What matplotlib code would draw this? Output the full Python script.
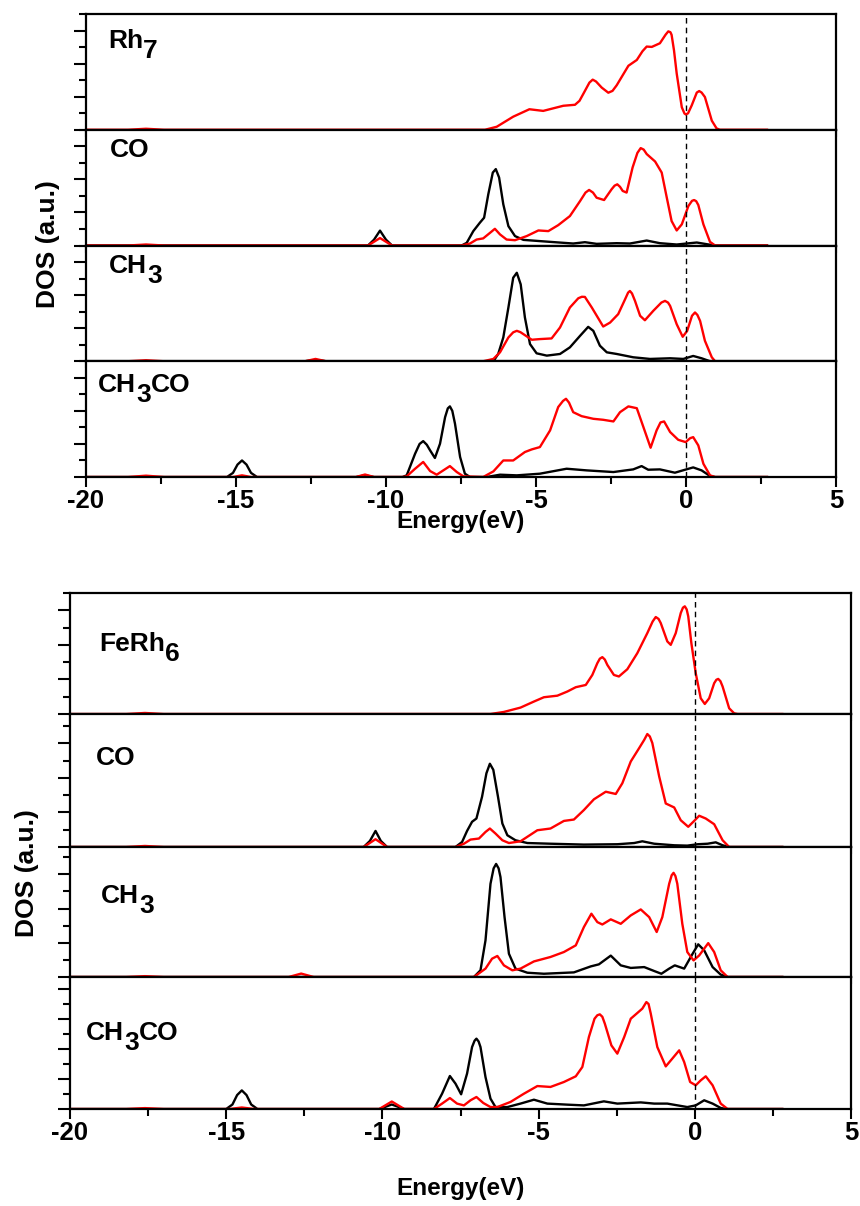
import matplotlib
matplotlib.use("Agg")
import matplotlib.pyplot as plt
from matplotlib.ticker import MultipleLocator

plt.rcParams['font.family'] = ['Liberation Sans', 'DejaVu Sans']
plt.rcParams['font.weight'] = 'bold'

# ---------------- data (energy in eV, DOS in arbitrary units) ----------------
# Top group: Rh7
rh7_red_E = [-20, -18.6, -18.0, -17.4, -6.7, -6.31, -5.76, -5.22, -4.76, -4.09, -3.70, -3.55, -3.42, -3.22, -3.11, -3.0, -2.81, -2.59, -2.45, -2.31, -1.92, -1.64, -1.45, -1.31, -1.14, -0.87, -0.68, -0.59, -0.52, -0.48, -0.40, -0.31, -0.14, -0.05, 0.0, 0.07, 0.19, 0.36, 0.44, 0.52, 0.63, 0.86, 1.02, 1.13, 2.7]
rh7_red_D = [0, 0, 0.06, 0, 0, 0.18, 0.79, 1.24, 1.14, 1.45, 1.51, 1.75, 2.18, 2.85, 3.03, 2.92, 2.55, 2.24, 2.35, 2.69, 3.87, 4.22, 4.75, 5.03, 5.01, 5.23, 5.75, 5.95, 5.9, 5.74, 4.8, 3.40, 1.36, 0.98, 0.92, 1.0, 1.47, 2.25, 2.34, 2.25, 1.98, 0.55, 0.08, 0, 0]

rh7co_blk_E = [-20, -10.6, -10.4, -10.2, -10.0, -9.8, -7.48, -7.31, -7.09, -6.87, -6.73, -6.59, -6.44, -6.34, -6.23, -6.09, -5.92, -5.70, -5.42, -4.53, -3.76, -3.37, -2.98, -2.31, -1.87, -1.31, -0.87, -0.31, 0.02, 0.36, 0.69, 0.97, 2.7]
rh7co_blk_D = [0, 0, 0.35, 0.9, 0.35, 0, 0, 0.16, 0.87, 1.38, 1.68, 3.10, 4.41, 4.62, 4.11, 2.49, 1.17, 0.57, 0.34, 0.22, 0.12, 0.20, 0.10, 0.14, 0.12, 0.30, 0.14, 0.06, 0.12, 0.18, 0.08, 0, 0]
rh7co_red_E = [-20, -18.6, -18.0, -17.4, -10.6, -10.2, -9.8, -7.48, -7.2, -6.98, -6.76, -6.53, -6.37, -6.2, -5.98, -5.70, -5.31, -4.92, -4.59, -4.26, -3.87, -3.53, -3.35, -3.23, -3.1, -2.98, -2.73, -2.48, -2.38, -2.29, -2.2, -2.11, -1.98, -1.78, -1.62, -1.51, -1.41, -1.31, -1.03, -0.81, -0.64, -0.48, -0.31, -0.14, 0.08, 0.2, 0.27, 0.34, 0.41, 0.58, 0.8, 0.97, 2.7]
rh7co_red_D = [0, 0, 0.06, 0, 0, 0.45, 0, 0, 0.12, 0.36, 0.43, 0.77, 1.01, 0.67, 0.36, 0.32, 0.57, 0.91, 0.87, 1.23, 1.78, 2.69, 3.2, 3.36, 3.2, 2.89, 2.75, 3.40, 3.62, 3.70, 3.55, 3.30, 3.20, 4.72, 5.6, 5.89, 5.8, 5.53, 5.08, 4.41, 2.89, 1.48, 0.91, 1.28, 2.39, 2.7, 2.75, 2.68, 2.45, 1.28, 0.22, 0, 0]

rh7ch3_blk_E = [-20, -12.7, -12.35, -12.0, -6.42, -6.26, -6.09, -5.92, -5.76, -5.64, -5.51, -5.37, -5.2, -4.98, -4.64, -4.2, -3.87, -3.53, -3.26, -3.09, -2.87, -2.64, -2.31, -1.76, -1.2, -0.53, -0.09, 0.24, 0.52, 0.8, 2.7]
rh7ch3_blk_D = [0, 0, 0.08, 0, 0, 0.44, 1.44, 3.25, 5.05, 5.35, 4.65, 2.65, 1.04, 0.48, 0.34, 0.44, 0.84, 1.54, 2.08, 1.84, 0.94, 0.54, 0.44, 0.24, 0.14, 0.18, 0.14, 0.32, 0.18, 0, 0]
rh7ch3_red_E = [-20, -18.6, -18.0, -17.4, -12.7, -12.35, -12.0, -6.76, -6.42, -6.2, -5.92, -5.76, -5.64, -5.52, -5.42, -5.14, -4.87, -4.48, -4.2, -3.87, -3.59, -3.47, -3.37, -3.14, -2.76, -2.53, -2.26, -2.03, -1.93, -1.87, -1.8, -1.7, -1.53, -1.37, -1.09, -0.82, -0.7, -0.6, -0.53, -0.31, -0.11, 0.04, 0.2, 0.3, 0.38, 0.47, 0.63, 0.86, 0.97, 2.7]
rh7ch3_red_D = [0, 0, 0.06, 0, 0, 0.14, 0, 0, 0.14, 0.54, 1.44, 1.75, 1.84, 1.76, 1.64, 1.30, 1.34, 1.38, 2.04, 3.25, 3.81, 3.9, 3.89, 3.25, 2.10, 2.34, 2.85, 3.75, 4.15, 4.25, 4.1, 3.65, 2.75, 2.48, 3.05, 3.55, 3.65, 3.55, 3.35, 2.24, 1.48, 1.84, 2.75, 2.95, 2.8, 2.44, 1.24, 0.24, 0, 0]

rh7ch3co_blk_E = [-20, -15.3, -15.1, -14.95, -14.8, -14.65, -14.5, -14.3, -11.0, -10.7, -10.4, -9.45, -9.31, -9.03, -8.88, -8.76, -8.64, -8.53, -8.37, -8.2, -8.03, -7.94, -7.87, -7.79, -7.7, -7.53, -7.37, -7.2, -6.64, -6.2, -5.64, -4.87, -3.98, -3.31, -2.42, -1.76, -1.48, -1.26, -0.87, -0.37, -0.03, 0.24, 0.52, 0.8, 0.97, 2.7]
rh7ch3co_blk_D = [0, 0, 0.25, 0.75, 1.0, 0.75, 0.25, 0, 0, 0.1, 0, 0, 0.1, 1.41, 2.0, 2.17, 1.95, 1.61, 1.15, 2.01, 3.62, 4.15, 4.27, 4.0, 3.22, 1.21, 0.2, 0, 0, 0.14, 0.1, 0.2, 0.5, 0.4, 0.3, 0.46, 0.66, 0.44, 0.46, 0.26, 0.44, 0.58, 0.4, 0.06, 0, 0]
rh7ch3co_red_E = [-20, -18.6, -18.0, -17.4, -15.1, -14.8, -14.5, -11.0, -10.7, -10.4, -9.45, -9.31, -9.03, -8.76, -8.53, -8.31, -8.09, -7.87, -7.64, -7.42, -6.76, -6.42, -6.09, -5.76, -5.37, -5.14, -4.87, -4.53, -4.26, -4.1, -4.0, -3.9, -3.76, -3.48, -3.09, -2.76, -2.42, -2.2, -1.92, -1.64, -1.42, -1.18, -0.98, -0.85, -0.73, -0.53, -0.26, -0.01, 0.14, 0.24, 0.41, 0.58, 0.8, 0.97, 2.7]
rh7ch3co_red_D = [0, 0, 0.08, 0, 0, 0.1, 0, 0, 0.15, 0, 0, 0.04, 0.5, 0.91, 0.36, 0.14, 0.4, 0.66, 0.3, 0.04, 0, 0.34, 1.0, 1.0, 1.51, 1.67, 1.81, 2.82, 4.23, 4.6, 4.73, 4.5, 3.92, 3.68, 3.52, 3.46, 3.36, 3.92, 4.27, 4.16, 3.02, 1.77, 2.82, 3.3, 3.36, 2.72, 2.25, 2.11, 2.35, 2.41, 1.91, 0.8, 0.1, 0, 0]

# Bottom group: FeRh6
ferh6_red_E = [-20, -18.2, -17.6, -17.0, -6.54, -6.11, -5.58, -5.15, -4.83, -4.4, -4.08, -3.81, -3.49, -3.28, -3.12, -3.04, -2.96, -2.88, -2.8, -2.59, -2.43, -2.16, -1.84, -1.52, -1.35, -1.25, -1.16, -1.09, -0.88, -0.77, -0.61, -0.45, -0.38, -0.32, -0.26, -0.21, -0.11, 0.03, 0.19, 0.32, 0.46, 0.62, 0.69, 0.75, 0.82, 0.89, 1.1, 1.26, 1.37, 2.8]
ferh6_red_D = [0, 0, 0.06, 0, 0, 0.12, 0.37, 0.72, 0.97, 1.06, 1.30, 1.55, 1.68, 2.26, 2.94, 3.2, 3.29, 3.15, 2.84, 2.26, 2.17, 2.59, 3.52, 4.68, 5.35, 5.61, 5.5, 5.26, 4.20, 4.0, 4.68, 5.84, 6.15, 6.23, 6.05, 5.65, 4.10, 2.36, 0.91, 0.58, 0.91, 1.78, 1.98, 2.03, 1.9, 1.59, 0.33, 0.04, 0, 0]

ferh6co_blk_E = [-20, -10.6, -10.4, -10.22, -10.05, -9.85, -7.66, -7.45, -7.29, -7.13, -6.99, -6.81, -6.67, -6.56, -6.45, -6.30, -6.16, -6.0, -5.74, -5.36, -4.62, -3.55, -2.48, -1.94, -1.68, -1.3, -0.66, -0.24, 0.09, 0.41, 0.67, 0.89, 1.1, 2.8]
ferh6co_blk_D = [0, 0, 0.35, 0.93, 0.35, 0, 0, 0.29, 0.93, 1.46, 1.65, 2.91, 4.27, 4.82, 4.47, 2.91, 1.36, 0.68, 0.39, 0.23, 0.19, 0.14, 0.16, 0.23, 0.33, 0.19, 0.1, 0.08, 0.16, 0.19, 0.27, 0.1, 0, 0]
ferh6co_red_E = [-20, -18.2, -17.6, -17.0, -10.6, -10.22, -9.85, -7.66, -7.39, -7.18, -6.91, -6.7, -6.56, -6.38, -6.16, -5.95, -5.58, -5.04, -4.62, -4.19, -3.87, -3.55, -3.23, -2.85, -2.53, -2.32, -2.05, -1.78, -1.62, -1.52, -1.44, -1.36, -1.14, -0.93, -0.66, -0.45, -0.21, -0.02, 0.14, 0.35, 0.62, 0.89, 1.1, 2.8]
ferh6co_red_D = [0, 0, 0.06, 0, 0, 0.45, 0, 0, 0.19, 0.43, 0.49, 0.87, 1.07, 0.78, 0.39, 0.23, 0.33, 0.97, 1.07, 1.51, 1.59, 2.14, 2.76, 3.2, 3.07, 3.69, 4.95, 5.73, 6.2, 6.54, 6.4, 6.02, 4.08, 2.52, 2.29, 1.55, 1.17, 1.51, 1.81, 1.65, 1.32, 0.39, 0, 0]

ferh6ch3_blk_E = [-20, -7.07, -6.86, -6.7, -6.54, -6.44, -6.36, -6.28, -6.22, -6.09, -5.95, -5.74, -5.36, -4.83, -3.87, -3.33, -3.07, -2.69, -2.37, -2.05, -1.62, -1.3, -1.07, -0.82, -0.64, -0.34, -0.07, 0.11, 0.3, 0.57, 0.83, 1.05, 2.8]
ferh6ch3_blk_D = [0, 0, 0.39, 2.14, 5.45, 6.35, 6.61, 6.35, 5.84, 3.5, 1.36, 0.49, 0.25, 0.19, 0.27, 0.62, 0.74, 1.25, 0.68, 0.53, 0.58, 0.35, 0.19, 0.49, 0.68, 0.49, 1.36, 1.91, 1.56, 0.58, 0.14, 0, 0]
ferh6ch3_red_E = [-20, -18.2, -17.6, -17.0, -13.0, -12.6, -12.2, -7.07, -6.7, -6.49, -6.32, -6.11, -5.84, -5.58, -5.15, -4.62, -4.19, -3.81, -3.55, -3.31, -3.12, -2.96, -2.69, -2.37, -2.05, -1.73, -1.46, -1.22, -1.04, -0.82, -0.74, -0.68, -0.62, -0.56, -0.4, -0.24, -0.04, 0.14, 0.43, 0.62, 0.83, 1.05, 2.8]
ferh6ch3_red_D = [0, 0, 0.05, 0, 0, 0.2, 0, 0, 0.49, 1.07, 1.23, 0.68, 0.39, 0.49, 0.91, 1.17, 1.46, 1.85, 2.92, 3.70, 3.21, 3.07, 3.37, 3.11, 3.6, 3.95, 3.5, 2.63, 3.5, 5.45, 5.95, 6.09, 5.9, 5.45, 3.11, 1.46, 0.97, 1.26, 1.98, 1.46, 0.39, 0, 0]

ferh6ch3co_blk_E = [-20, -15.0, -14.8, -14.65, -14.5, -14.35, -14.2, -14.0, -10.1, -9.7, -9.3, -8.35, -8.09, -7.84, -7.66, -7.48, -7.29, -7.13, -7.05, -6.99, -6.92, -6.86, -6.7, -6.54, -6.38, -6.0, -5.58, -5.15, -4.72, -4.08, -3.55, -2.91, -2.48, -1.73, -1.3, -0.88, -0.24, 0.03, 0.3, 0.57, 0.83, 0.99, 2.8]
ferh6ch3co_blk_D = [0, 0, 0.3, 0.93, 1.24, 0.93, 0.3, 0, 0, 0.3, 0, 0, 1.02, 2.2, 1.69, 0.98, 2.36, 4.13, 4.55, 4.69, 4.5, 4.13, 2.13, 0.69, 0.13, 0.13, 0.36, 0.62, 0.36, 0.29, 0.24, 0.51, 0.36, 0.44, 0.36, 0.36, 0.13, 0.24, 0.58, 0.36, 0.07, 0, 0]
ferh6ch3co_red_E = [-20, -18.2, -17.6, -17.0, -14.9, -14.5, -14.1, -10.1, -9.7, -9.3, -8.35, -8.09, -7.84, -7.61, -7.39, -7.18, -6.99, -6.77, -6.54, -6.32, -5.9, -5.47, -5.04, -4.62, -4.19, -3.81, -3.6, -3.39, -3.21, -3.12, -3.04, -2.96, -2.88, -2.67, -2.48, -2.26, -2.05, -1.84, -1.68, -1.55, -1.48, -1.41, -1.2, -0.93, -0.72, -0.5, -0.34, -0.15, 0.03, 0.19, 0.35, 0.57, 0.83, 1.05, 2.8]
ferh6ch3co_red_D = [0, 0, 0.06, 0, 0, 0.1, 0, 0, 0.5, 0, 0, 0.36, 0.73, 0.36, 0.24, 0.58, 0.8, 0.4, 0.13, 0.13, 0.47, 1.02, 1.53, 1.47, 1.8, 2.18, 2.8, 4.8, 6.02, 6.25, 6.31, 6.15, 5.69, 4.24, 3.69, 4.8, 6.02, 6.4, 6.69, 7.13, 7.0, 6.36, 4.13, 2.84, 3.36, 3.91, 3.13, 1.8, 1.58, 1.91, 2.18, 1.58, 0.36, 0, 0]

x_ticks = [-20, -15, -10, -5, 0, 5]
x_tick_labels = ['-20', '-15', '-10', '-5', '0', '5']
top_labels = [[('Rh', 0), ('7', 1)], [('CO', 0)], [('CH', 0), ('3', 1)], [('CH', 0), ('3', 1), ('CO', 0)]]
bot_labels = [[('FeRh', 0), ('6', 1)], [('CO', 0)], [('CH', 0), ('3', 1)], [('CH', 0), ('3', 1), ('CO', 0)]]
x_label = 'Energy(eV)'
y_label = 'DOS (a.u.)'

top_curves = [
    [(rh7_red_E, rh7_red_D, 'red')],
    [(rh7co_blk_E, rh7co_blk_D, 'black'), (rh7co_red_E, rh7co_red_D, 'red')],
    [(rh7ch3_blk_E, rh7ch3_blk_D, 'black'), (rh7ch3_red_E, rh7ch3_red_D, 'red')],
    [(rh7ch3co_blk_E, rh7ch3co_blk_D, 'black'), (rh7ch3co_red_E, rh7ch3co_red_D, 'red')],
]
bot_curves = [
    [(ferh6_red_E, ferh6_red_D, 'red')],
    [(ferh6co_blk_E, ferh6co_blk_D, 'black'), (ferh6co_red_E, ferh6co_red_D, 'red')],
    [(ferh6ch3_blk_E, ferh6ch3_blk_D, 'black'), (ferh6ch3_red_E, ferh6ch3_red_D, 'red')],
    [(ferh6ch3co_blk_E, ferh6ch3co_blk_D, 'black'), (ferh6ch3co_red_E, ferh6ch3co_red_D, 'red')],
]

# ---------------- layout ----------------
W, H = 860, 1206
fig = plt.figure(figsize=(W / 100, H / 100), dpi=100)

def px_rect(xl, xr, yt, yb):
    return [xl / W, 1 - yb / H, (xr - xl) / W, (yb - yt) / H]

def draw_label(x_px, y_px, parts, size=19, drop=7.0):
    t = fig.text(x_px / W, 1 - y_px / H, parts[0][0], fontsize=size, fontweight='bold',
                 ha='left', va='baseline')
    prev, prev_sub = t, parts[0][1]
    for txt, sub in parts[1:]:
        dy = 0
        if sub and not prev_sub:
            dy = -drop
        elif prev_sub and not sub:
            dy = drop
        ann = matplotlib.text.Annotation(txt, xy=(1, 0), xycoords=prev, xytext=(0, dy),
                                         textcoords='offset points', ha='left', va='bottom',
                                         fontsize=size, fontweight='bold')
        fig.add_artist(ann)
        prev, prev_sub = ann, sub

def make_group(xl, xr, bounds, ylims, curves, labels, label_pos, lab_y_px, lab_x_px, xlab_y_px):
    axes = []
    for i in range(4):
        ax = fig.add_axes(px_rect(xl, xr, bounds[i], bounds[i + 1]))
        for E, D, c in curves[i]:
            ax.plot(E, D, color=c, lw=1.7, solid_joinstyle='round')
        ax.axvline(0, color='black', lw=1.0, ls=(0, (4, 3)))
        ax.set_xlim(-20, 5)
        ax.set_ylim(0, ylims[i])
        ax.xaxis.set_major_locator(MultipleLocator(5))
        ax.xaxis.set_minor_locator(MultipleLocator(2.5))
        ax.yaxis.set_major_locator(MultipleLocator(2))
        ax.yaxis.set_minor_locator(MultipleLocator(1))
        ax.set_yticklabels([])
        for s in ax.spines.values():
            s.set_linewidth(1.6)
        last = (i == 3)
        ax.tick_params(axis='x', which='major', direction='out', length=7 if last else 5,
                       width=1.5, labelsize=18.5, pad=2, labelbottom=last)
        ax.tick_params(axis='x', which='minor', direction='out', length=5 if last else 3.5,
                       width=1.5, labelbottom=False)
        ax.tick_params(axis='y', which='major', direction='out', length=8.5, width=1.5)
        ax.tick_params(axis='y', which='minor', direction='out', length=5, width=1.5)
        if last:
            ax.set_xticks(x_ticks)
            ax.set_xticklabels(x_tick_labels, fontweight='bold')
        axes.append(ax)
        draw_label(label_pos[i][0], label_pos[i][1], labels[i])
    fig.text((xl + xr) / 2 / W, 1 - xlab_y_px / H, x_label, fontsize=17.5, fontweight='bold',
             ha='center', va='center')
    fig.text(lab_x_px / W, 1 - lab_y_px / H, y_label, fontsize=19, fontweight='bold',
             ha='center', va='center', rotation=90)
    return axes

make_group(86, 836, [14, 129.75, 245.5, 361.25, 477], [7, 7, 7, 7], top_curves, top_labels,
           [(108, 48), (110, 157), (109, 273), (98, 392)], 244, 48, 522)
make_group(70, 851, [593, 714, 847, 977, 1109], [7, 7.7, 7.6, 8.8], bot_curves, bot_labels,
           [(99, 651), (96, 765), (101, 903), (86, 1040)], 873, 27, 1188)

fig.savefig('out.png', dpi=100)
